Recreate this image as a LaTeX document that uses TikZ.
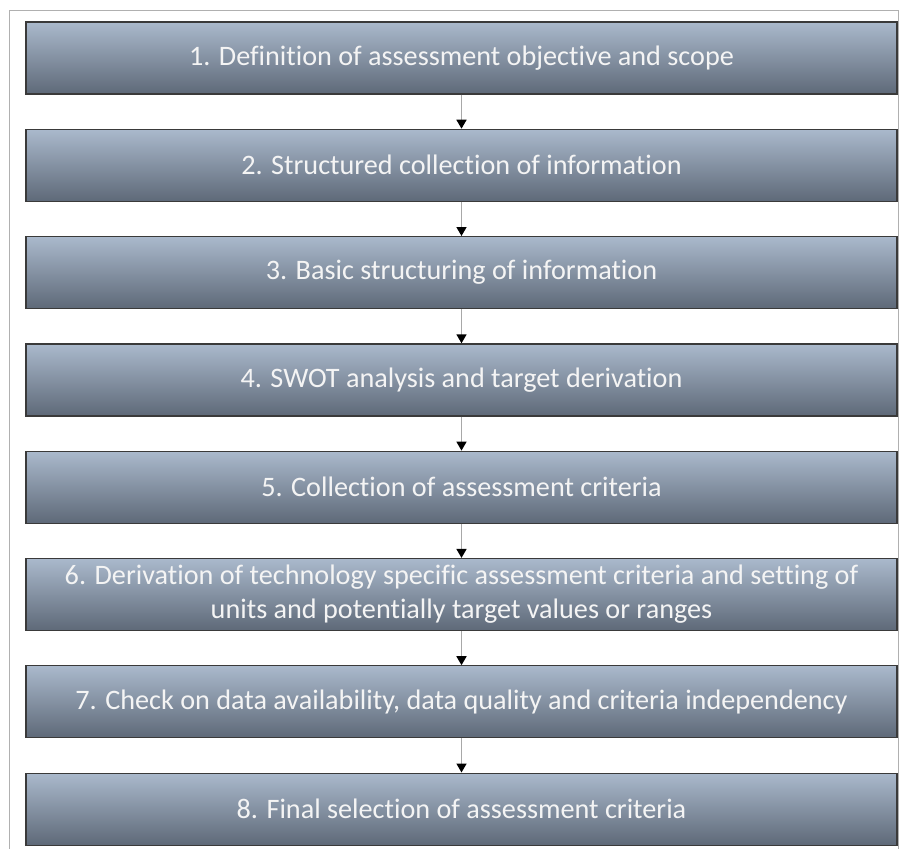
\documentclass[tikz,border=0pt]{standalone}
\usepackage{fontspec}
\setmainfont{Carlito}[Ligatures=NoCommon]
\usetikzlibrary{positioning}
\usetikzlibrary{arrows.meta}
\definecolor{boxtop}{HTML}{AAB9CC}
\definecolor{boxbot}{HTML}{5E6978}
\definecolor{boxline}{HTML}{3A3A3A}
\definecolor{boxtext}{HTML}{F4F4F4}
\definecolor{linkgray}{HTML}{A8A8A8}
\definecolor{framegray}{HTML}{B0B0B0}
\tikzset{>={Triangle[length=9pt,width=10pt,color=black]}}
\tikzset{stage/.style={draw=boxline, line width=1.2pt, top color=boxtop, bottom color=boxbot, minimum width=871pt, minimum height=72pt, inner sep=0pt, text=boxtext, align=center, font=\fontsize{28.2}{34}\selectfont}}
\tikzset{link/.style={->, draw=linkgray, line width=1.6pt}}

\begin{document}
\begin{tikzpicture}[node distance=34.1pt]
\useasboundingbox (0,0) rectangle (900pt,-849pt);
\draw[framegray, line width=1pt] (9pt,-10pt) rectangle (898.5pt,-855pt);

\node (s1) [stage] at (461.5pt,-58pt) {1. Definition of assessment objective and scope};
\node (s2) [stage, below=of s1] {2. Structured collection of information};
\node (s3) [stage, below=of s2] {3. Basic structuring of information};
\node (s4) [stage, below=of s3] {4. SWOT analysis and target derivation};
\node (s5) [stage, below=of s4] {5. Collection of assessment criteria};
\node (s6) [stage, below=of s5] {6. Derivation of technology specific assessment criteria and setting of\\units and potentially target values or ranges};
\node (s7) [stage, below=of s6] {7. Check on data availability, data quality and criteria independency};
\node (s8) [stage, below=of s7] {8. Final selection of assessment criteria};

\draw[link] (s1) -- (s2);
\draw[link] (s2) -- (s3);
\draw[link] (s3) -- (s4);
\draw[link] (s4) -- (s5);
\draw[link] (s5) -- (s6);
\draw[link] (s6) -- (s7);
\draw[link] (s7) -- (s8);
\end{tikzpicture}
\end{document}
